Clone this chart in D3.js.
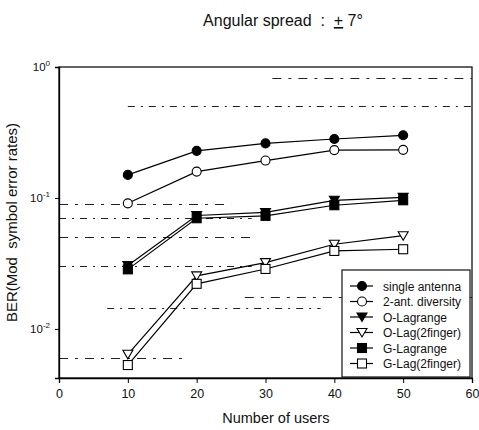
<!DOCTYPE html>
<html>
<head>
<meta charset="utf-8">
<script src="https://cdn.jsdelivr.net/npm/d3@7"></script>
<style>
  body { margin: 0; background: #fff; }
  text { font-family: "Liberation Sans", Arial, sans-serif; fill: #111; }
</style>
</head>
<body>
<div id="chart"></div>
<script>
// data
const users = [10, 20, 30, 40, 50];
const singleAntenna = [0.150, 0.229, 0.261, 0.282, 0.301];
const twoAntDiversity = [0.091, 0.159, 0.193, 0.232, 0.233];
const oLagrange = [0.0305, 0.0735, 0.0775, 0.096, 0.101];
const oLag2finger = [0.0064, 0.0254, 0.0321, 0.0443, 0.0515];
const gLagrange = [0.0285, 0.0700, 0.0730, 0.088, 0.096];
const gLag2finger = [0.0053, 0.0221, 0.0287, 0.0394, 0.0406];

const xTicks = [0, 10, 20, 30, 40, 50, 60];
const yTicks = [1, 0.1, 0.01];
const yTickExp = ["0", "-1", "-2"];

// broken scan gridlines: value, from x, to x
const gridValues = [0.82, 0.50, 0.09, 0.07, 0.05, 0.03, 0.0175, 0.0145, 0.006];
const gridFrom = [31, 10, 0, 0, 0, 0, 27, 7, 0];
const gridTo = [60, 60, 25, 28, 28, 28, 60, 38, 18];

const seriesNames = ["single antenna", "2-ant. diversity", "O-Lagrange", "O-Lag(2finger)", "G-Lagrange", "G-Lag(2finger)"];
const seriesValues = [singleAntenna, twoAntDiversity, oLagrange, oLag2finger, gLagrange, gLag2finger];
const seriesMarker = ["circle", "circle", "triangle", "triangle", "square", "square"];
const seriesFilled = [true, false, true, false, true, false];

const fullWidth = 479;
const fullHeight = 430;
const margin = { top: 67, right: 7, bottom: 52, left: 59 };
const width = fullWidth - margin.left - margin.right;
const height = fullHeight - margin.top - margin.bottom;

const root = d3.select("#chart")
  .append("svg")
  .attr("width", fullWidth)
  .attr("height", fullHeight);

const svg = root.append("g")
  .attr("transform", `translate(${margin.left},${margin.top})`);

// Scales
const xScale = d3.scaleLinear().domain([0, 60]).range([0, width]);
const yScale = d3.scaleLog().domain([0.00422, 1]).range([height, 0]);

// grid artifacts
gridValues.forEach((v, i) => {
  svg.append("line")
    .attr("x1", xScale(gridFrom[i]))
    .attr("x2", xScale(gridTo[i]))
    .attr("y1", Math.round(yScale(v)) + 0.5)
    .attr("y2", Math.round(yScale(v)) + 0.5)
    .attr("stroke", "#222")
    .attr("stroke-width", 1)
    .attr("stroke-dasharray", i % 2 ? "7,6,2,6" : "9,7,3,7");
});

// frame
svg.append("rect")
  .attr("x", 0).attr("y", 0)
  .attr("width", width).attr("height", height)
  .attr("fill", "none")
  .attr("stroke", "#111")
  .attr("stroke-width", 1.3);

// X Axis
const xAxis = svg.append("g")
  .attr("transform", `translate(0,${height})`)
  .call(d3.axisBottom(xScale).tickValues(xTicks).tickSize(5).tickPadding(6));
xAxis.select(".domain").attr("stroke-width", 1.3);
xAxis.selectAll("text").style("font-size", "12.5px").style("font-family", "Liberation Sans, Arial, sans-serif");

// Y Axis
const yAxis = svg.append("g")
  .call(d3.axisLeft(yScale).tickValues(yTicks).tickSize(4).tickFormat(""));
yAxis.select(".domain").attr("stroke-width", 1.3);

yTicks.forEach((t, i) => {
  const lab = svg.append("text")
    .attr("x", -9)
    .attr("y", yScale(t) + 4)
    .attr("text-anchor", "end")
    .style("font-size", "11.5px");
  lab.append("tspan").text("10");
  lab.append("tspan").attr("dy", -5).style("font-size", "8px").text(yTickExp[i]);
});

// Axis labels
svg.append("text")
  .attr("x", xScale(31.5))
  .attr("y", height + 45)
  .attr("text-anchor", "middle")
  .style("font-size", "14.5px")
  .text("Number of users");

svg.append("text")
  .attr("transform", "rotate(-90)")
  .attr("x", -(height / 2) + 0)
  .attr("y", -42)
  .attr("text-anchor", "middle")
  .style("font-size", "15px")
  .style("white-space", "pre")
  .text("BER(Mod  symbol error rates)");

// Title
const title = root.append("text")
  .attr("x", 283)
  .attr("y", 26)
  .attr("text-anchor", "middle")
  .style("font-size", "16px")
  .style("white-space", "pre");
title.append("tspan").text("Angular spread  :  ");
title.append("tspan").style("text-decoration", "underline").text("+");
title.append("tspan").text(" 7°");

// marker drawing
function drawMarker(g, kind, filled, cx, cy) {
  const fill = filled ? "#000" : "#fff";
  if (kind === "circle") {
    g.append("circle").attr("cx", cx).attr("cy", cy).attr("r", 4.5)
      .attr("fill", fill).attr("stroke", "#000").attr("stroke-width", 1.1);
  } else if (kind === "square") {
    g.append("rect").attr("x", cx - 4.5).attr("y", cy - 4.5)
      .attr("width", 9).attr("height", 9)
      .attr("fill", fill).attr("stroke", "#000").attr("stroke-width", 1.1);
  } else {
    const s = 5;
    g.append("path")
      .attr("d", `M${cx - s},${cy - s * 0.8}L${cx + s},${cy - s * 0.8}L${cx},${cy + s * 0.9}Z`)
      .attr("fill", fill).attr("stroke", "#000").attr("stroke-width", 1.1);
  }
}

const line = d3.line()
  .x((d, i) => xScale(users[i]))
  .y(d => yScale(d));

seriesValues.forEach((vals, k) => {
  svg.append("path")
    .datum(vals)
    .attr("fill", "none")
    .attr("stroke", "#000")
    .attr("stroke-width", 1.2)
    .attr("d", line);
});

seriesValues.forEach((vals, k) => {
  const g = svg.append("g");
  vals.forEach((v, i) => drawMarker(g, seriesMarker[k], seriesFilled[k], xScale(users[i]), yScale(v)));
});

// Legend
const legend = root.append("g").attr("transform", "translate(342,270)");
legend.append("rect")
  .attr("width", 128).attr("height", 107)
  .attr("fill", "#fff")
  .attr("stroke", "#111")
  .attr("stroke-width", 1.2);

seriesNames.forEach((name, k) => {
  const y = 16 + k * 15.5;
  legend.append("line")
    .attr("x1", 8).attr("x2", 31)
    .attr("y1", y).attr("y2", y)
    .attr("stroke", "#000").attr("stroke-width", 1.2);
  drawMarker(legend, seriesMarker[k], seriesFilled[k], 20, y);
  legend.append("text")
    .attr("x", 41).attr("y", y + 4.5)
    .style("font-size", "12px")
    .text(name);
});
</script>
</body>
</html>
